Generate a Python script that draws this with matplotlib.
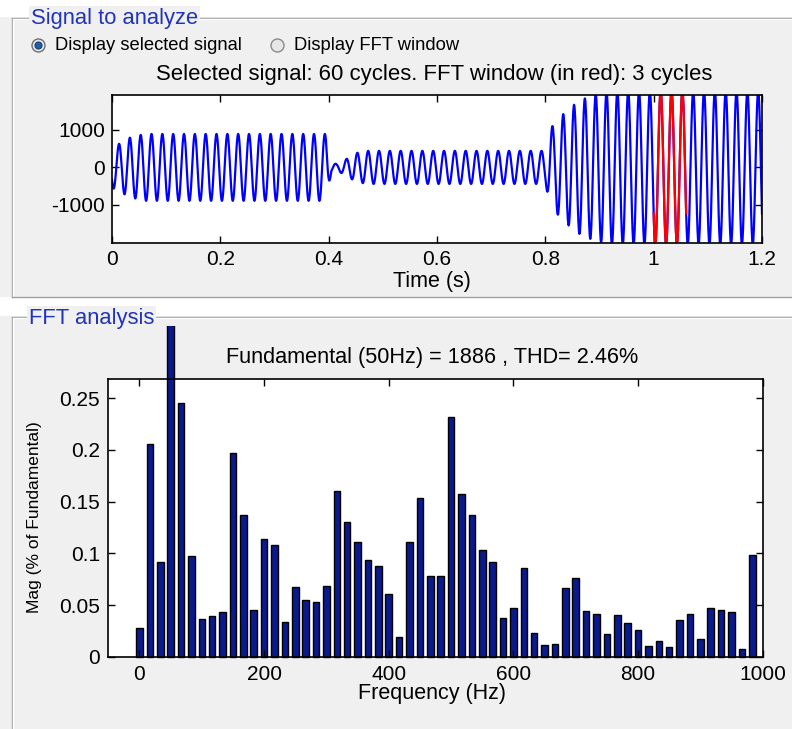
import numpy as np
import matplotlib
matplotlib.use("Agg")
import matplotlib.pyplot as plt
from matplotlib.patches import Rectangle, Circle
from matplotlib.lines import Line2D
from matplotlib.transforms import Bbox, TransformedBbox, IdentityTransform

plt.rcParams['font.family'] = ['Liberation Sans', 'DejaVu Sans']
plt.rcParams['axes.unicode_minus'] = False

# ---------------- data ----------------
# Signal: 50 Hz waveform, amplitude envelope
f0 = 50.0
fs = 2000.0
t_end = 1.2
env_t = [0.0, 0.01, 0.03, 0.06, 0.395, 0.405, 0.415, 0.43, 0.45, 0.47, 0.80, 0.81, 0.835, 0.86, 0.89, 0.92, 1.2]
env_a = [550, 600, 780, 890, 890, 120, 90, 200, 380, 440, 440, 1050, 1450, 1750, 1950, 2050, 2050]
phase = -2.5
fft_window = [1.0, 1.06]

# FFT: bins every 50/3 Hz, magnitudes in % of fundamental
n_bins = 60
mags = [0.028, 0.206, 0.0915, 100.0, 0.245, 0.098, 0.0366, 0.0392, 0.043, 0.197,
        0.137, 0.0456, 0.1137, 0.1085, 0.0337, 0.0678, 0.0549, 0.0536, 0.069, 0.1606,
        0.1307, 0.1108, 0.0941, 0.0877, 0.0613, 0.0196, 0.1108, 0.154, 0.0784, 0.0784,
        0.2322, 0.157, 0.1375, 0.1033, 0.0918, 0.038, 0.0473, 0.0863, 0.0232, 0.0116,
        0.0129, 0.067, 0.076, 0.0448, 0.0415, 0.0222, 0.0406, 0.0325, 0.0264, 0.0106,
        0.0158, 0.0093, 0.0354, 0.0415, 0.0174, 0.047, 0.0457, 0.0431, 0.0077, 0.0985]
freqs = np.arange(n_bins) * f0 / 3.0

time_ticks = [0, 0.2, 0.4, 0.6, 0.8, 1.0, 1.2]
time_ticklabels = ['0', '0.2', '0.4', '0.6', '0.8', '1', '1.2']
sig_yticks = [-1000, 0, 1000]
freq_ticks = [0, 200, 400, 600, 800, 1000]
mag_ticks = [0, 0.05, 0.1, 0.15, 0.2, 0.25]
mag_ticklabels = ['0', '0.05', '0.1', '0.15', '0.2', '0.25']

title_sig = 'Selected signal: 60 cycles. FFT window (in red): 3 cycles'
title_fft = 'Fundamental (50Hz) = 1886 , THD= 2.46%'

# ---------------- figure ----------------
W, H = 792, 729
fig = plt.figure(figsize=(W / 100, H / 100), dpi=100)
panel_bg = '#f0f0f0'
fig.patch.set_facecolor(panel_bg)

bg = fig.add_axes([0, 0, 1, 1], zorder=0)
bg.set_xlim(0, W)
bg.set_ylim(H, 0)
bg.axis('off')

# white strips
bg.add_patch(Rectangle((0, 0), W, 17, fc='white', ec='none'))
bg.add_patch(Rectangle((0, 297), W, 19, fc='white', ec='none'))

edge = '#a0a0a0'
def hline(y, x0, x1, c):
    bg.add_line(Line2D([x0, x1], [y, y], color=c, lw=1))
def vline(x, y0, y1, c):
    bg.add_line(Line2D([x, x], [y0, y1], color=c, lw=1))

# top panel border
hline(17.5, 11.5, W, edge); hline(18.5, 12.5, W, 'white')
vline(11.5, 17.5, 296.5, edge); vline(12.5, 18.5, 295.5, 'white')
hline(296.5, 11.5, W, edge)
# bottom panel border
hline(316.5, 11.5, W, edge); hline(317.5, 12.5, W, 'white')
vline(11.5, 316.5, H, edge); vline(12.5, 317.5, H, 'white')

lab_col = '#2233bb'
bg.text(31, 18, 'Signal to analyze', color=lab_col, fontsize=15.8, va='center', ha='left',
        bbox=dict(fc=panel_bg, ec='none', pad=1.5))
bg.text(29, 318, 'FFT analysis', color=lab_col, fontsize=15.8, va='center', ha='left',
        bbox=dict(fc=panel_bg, ec='none', pad=1.5))

# radio buttons
bg.add_patch(Circle((38.5, 45.5), 6.5, fc='#e8e8e8', ec='#707070', lw=1))
bg.add_patch(Circle((38.5, 45.5), 3.5, fc='#1f5fa8', ec='#163f70', lw=0.8))
bg.add_patch(Circle((277.5, 45.5), 6.5, fc='#e6e6e6', ec='#8a8a8a', lw=1))
bg.text(55, 45.5, 'Display selected signal', fontsize=13.2, va='center', ha='left', color='black')
bg.text(294, 45.5, 'Display FFT window', fontsize=13.2, va='center', ha='left', color='black')

# ---------------- signal axes ----------------
ax1 = fig.add_axes([112 / W, 1 - 242.7 / H, 650 / W, 148 / H], zorder=1)
t = np.arange(0, t_end + 0.5 / fs, 1 / fs)
env = np.interp(t, env_t, env_a)
sig = env * np.sin(2 * np.pi * f0 * t + phase)
ax1.plot(t, sig, color='#0000ff', lw=1.6)
m = (t >= fft_window[0]) & (t <= fft_window[1])
ax1.plot(t[m], sig[m], color='#ff0000', lw=1.6)
ax1.set_xlim(0, 1.2)
ax1.set_ylim(-2005, 1935)
ax1.set_xticks(time_ticks)
ax1.set_xticklabels(time_ticklabels)
ax1.set_yticks(sig_yticks)
ax1.tick_params(direction='in', length=5, width=1, top=True, right=True, labelsize=15, pad=5)
for s in ax1.spines.values():
    s.set_linewidth(1.2)
bg.text(434, 74, title_sig, fontsize=15.9, ha='center', va='center')
bg.text(432, 281, 'Time (s)', fontsize=15.5, ha='center', va='center')

# ---------------- FFT axes ----------------
ax2 = fig.add_axes([108.3 / W, 1 - 657 / H, 654.4 / W, 278 / H], zorder=1)
bars = ax2.bar(freqs, mags, width=10.5, color='#0a1a8c', edgecolor='black', linewidth=1)
ax2.set_xlim(-50, 1000)
ax2.set_ylim(0, 0.2685)
ax2.set_xticks(freq_ticks)
ax2.set_yticks(mag_ticks)
ax2.set_yticklabels(mag_ticklabels)
ax2.tick_params(direction='in', length=5, width=1, top=True, right=True, labelsize=15, pad=6)
for s in ax2.spines.values():
    s.set_linewidth(1.2)
# the fundamental bar extends above the axes up to the panel edge
clip = TransformedBbox(Bbox([[0, 0], [W, H - 326]]), IdentityTransform())
for b in bars:
    b.set_clip_on(True)
    b.set_clip_box(clip)
bg.text(432, 357, title_fft, fontsize=15.6, ha='center', va='center')
bg.text(432, 694, 'Frequency (Hz)', fontsize=15.5, ha='center', va='center')
bg.text(35, 517, 'Mag (% of Fundamental)', fontsize=12.5, ha='center', va='center', rotation=90)

fig.savefig('out.png', dpi=100, facecolor=fig.get_facecolor())
